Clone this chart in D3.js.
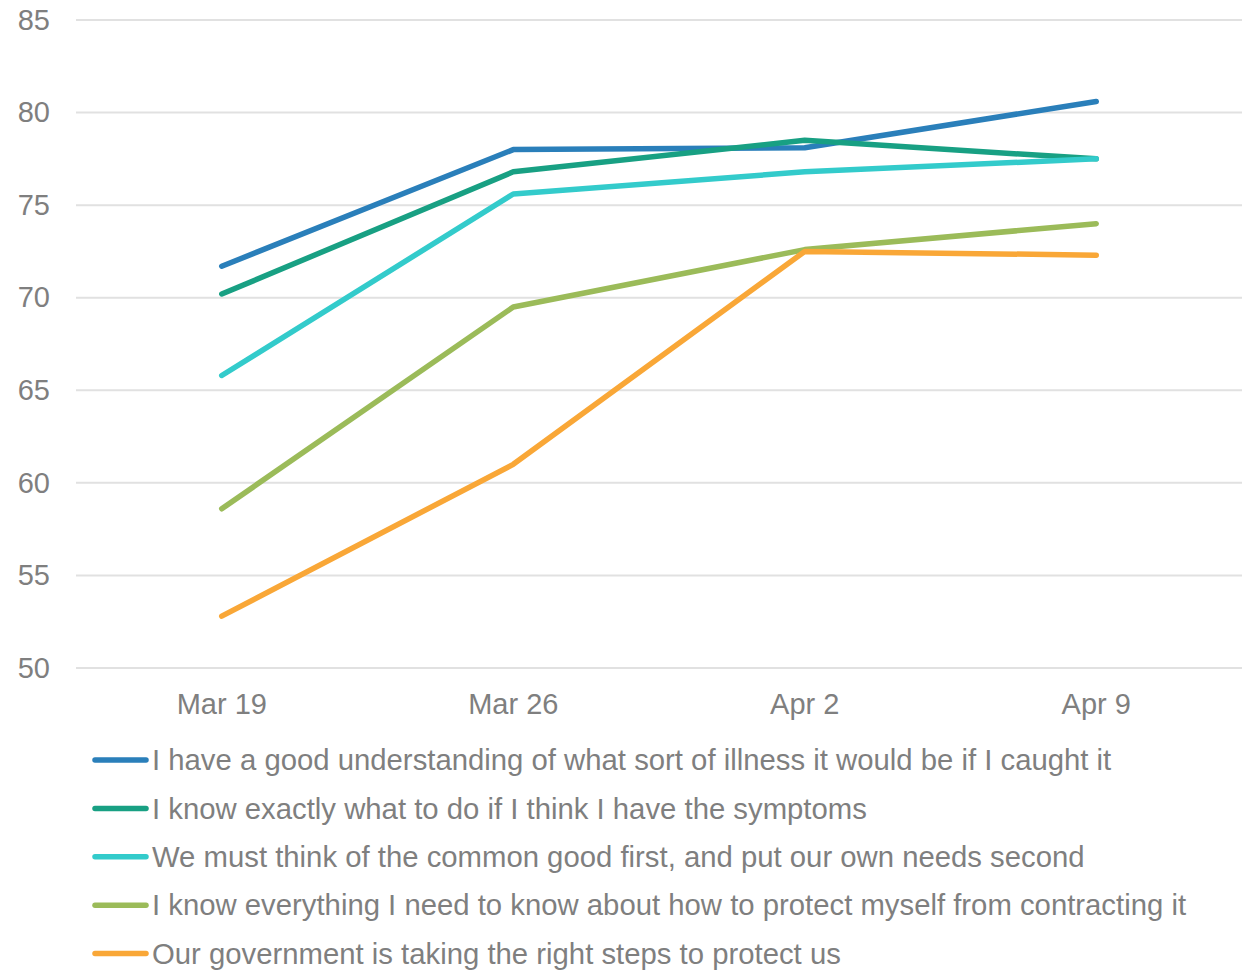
<!DOCTYPE html>
<html>
<head>
<meta charset="utf-8">
<script src="https://cdn.jsdelivr.net/npm/d3@7"></script>
<style>
  body { margin: 0; background: #fff; }
  text { font-family: "Liberation Sans", Arial, sans-serif; fill: #7f7f7f; }
</style>
</head>
<body>
<div class="chart"></div>
<script>
// data
var dates = ['Mar 19', 'Mar 26', 'Apr 2', 'Apr 9'];
var seriesNames = [
  'I have a good understanding of what sort of illness it would be if I caught it',
  'I know exactly what to do if I think I have the symptoms',
  'We must think of the common good first, and put our own needs second',
  'I know everything I need to know about how to protect myself from contracting it',
  'Our government is taking the right steps to protect us'
];
var understanding = [71.7, 78.0, 78.1, 80.6];
var knowWhatToDo = [70.2, 76.8, 78.5, 77.5];
var commonGood = [65.8, 75.6, 76.8, 77.5];
var knowEverything = [58.6, 69.5, 72.6, 74.0];
var government = [52.8, 61.0, 72.5, 72.3];
var yTicks = [50, 55, 60, 65, 70, 75, 80, 85];
var colors = ['#2a7fba', '#18a083', '#33cbcb', '#9bbb59', '#f9a737'];

var allSeries = [understanding, knowWhatToDo, commonGood, knowEverything, government];

var svgWidth = 1247;
var svgHeight = 970;
var margin = { top: 20, left: 76, right: 5 };
var plotBottom = 668;
var fontSize = '29px';

var svg = d3.select('.chart')
  .append('svg')
  .attr('width', svgWidth)
  .attr('height', svgHeight);

var xScale = d3.scaleBand()
  .domain(dates)
  .range([margin.left, svgWidth - margin.right]);

var yScale = d3.scaleLinear()
  .domain([50, 85])
  .range([plotBottom, margin.top]);

// gridlines
svg.append('g')
  .selectAll('line')
  .data(yTicks)
  .enter()
  .append('line')
  .attr('x1', margin.left)
  .attr('x2', svgWidth - margin.right)
  .attr('y1', function(d) { return yScale(d); })
  .attr('y2', function(d) { return yScale(d); })
  .attr('stroke', '#e1e1e1')
  .attr('stroke-width', 2);

// y axis labels
var leftAxis = d3.axisLeft(yScale).tickValues(yTicks).tickSize(0).tickPadding(0);
var yAxis = svg.append('g')
  .attr('transform', 'translate(50, 0)')
  .call(leftAxis);
yAxis.select('.domain').remove();
yAxis.selectAll('text')
  .style('font-size', fontSize)
  .style('font-family', '"Liberation Sans", Arial, sans-serif')
  .attr('fill', '#7f7f7f');

// x axis labels
var bottomAxis = d3.axisBottom(xScale).tickSize(0).tickPadding(0);
var xAxis = svg.append('g')
  .attr('transform', 'translate(0, 693)')
  .call(bottomAxis);
xAxis.select('.domain').remove();
xAxis.selectAll('text')
  .style('font-size', fontSize)
  .style('font-family', '"Liberation Sans", Arial, sans-serif')
  .attr('fill', '#7f7f7f');

// lines
var line = d3.line()
  .x(function(d, i) { return xScale(dates[i]) + xScale.bandwidth() / 2; })
  .y(function(d) { return yScale(d); });

svg.append('g')
  .selectAll('path')
  .data(allSeries)
  .enter()
  .append('path')
  .attr('d', line)
  .attr('fill', 'none')
  .attr('stroke', function(d, i) { return colors[i]; })
  .attr('stroke-width', 5.5)
  .attr('stroke-linecap', 'round')
  .attr('stroke-linejoin', 'round');

// legend
var legend = svg.append('g')
  .selectAll('g')
  .data(seriesNames)
  .enter()
  .append('g')
  .attr('transform', function(d, i) { return 'translate(95,' + (760 + i * 48.4) + ')'; });

legend.append('line')
  .attr('x1', 0)
  .attr('x2', 51)
  .attr('stroke', function(d, i) { return colors[i]; })
  .attr('stroke-width', 5.5)
  .attr('stroke-linecap', 'round');

legend.append('text')
  .attr('x', 57)
  .attr('dy', '0.35em')
  .style('font-size', '29.3px')
  .text(function(d) { return d; });
</script>
</body>
</html>
